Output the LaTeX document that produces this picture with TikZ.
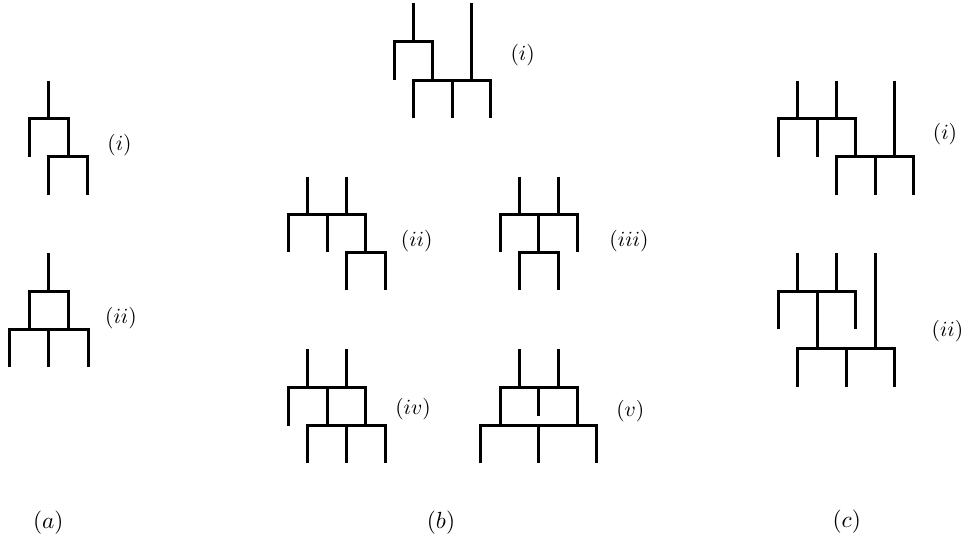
\documentclass[tikz,border=0pt]{standalone}
\begin{document}
\begin{tikzpicture}[x=0.75pt,y=-0.75pt,
  tree/.style={line width=2.25pt,line cap=butt,line join=miter,black},
  sidelabel/.style={font=\normalsize,scale=1.62,inner sep=0pt,anchor=center},
  caplabel/.style={font=\normalsize,scale=1.75,inner sep=0pt,anchor=center}]
\useasboundingbox (0,0) rectangle (968,537);
% (a)(i)
\draw[tree] (48.7,80.7)--(48.7,118.3);
\draw[tree] (29.3,156.7)--(29.3,118.3)--(68,118.3)--(68,156.7);
\draw[tree] (48.7,195)--(48.7,156.7)--(87.3,156.7)--(87.3,195);
\node[sidelabel] (ai) at (119.5,145) {$(i)$};
% (a)(ii)
\draw[tree] (48.7,253.3)--(48.7,291);
\draw[tree] (29.3,329.3)--(29.3,291)--(68,291)--(68,329.3);
\draw[tree] (9.7,367.3)--(9.7,329.3)--(88,329.3)--(88,367.3);
\draw[tree] (48.7,329.3)--(48.7,367.3);
\node[sidelabel] (aii) at (121,318) {$(ii)$};
% (b)(i)
\draw[tree] (413.3,3.3)--(413.3,41.7);
\draw[tree] (394,80)--(394,41.7)--(432.7,41.7)--(432.7,80);
\draw[tree] (471.3,3.3)--(471.3,80);
\draw[tree] (413.3,118.3)--(413.3,80)--(490.7,80)--(490.7,118.3);
\draw[tree] (452,80)--(452,118.3);
\node[sidelabel] (bi) at (522.7,55) {$(i)$};
% (b)(ii)
\draw[tree] (307.7,176.7)--(307.7,214.3);
\draw[tree] (346.3,176.7)--(346.3,214.3);
\draw[tree] (288.3,252.3)--(288.3,214.3)--(365.7,214.3)--(365.7,252.3);
\draw[tree] (327,214.3)--(327,252.3);
\draw[tree] (346.3,290)--(346.3,252.3)--(385,252.3)--(385,290);
\node[sidelabel] (bii) at (416.7,240.7) {$(ii)$};
% (b)(iii)
\draw[tree] (519.3,176.7)--(519.3,214.3);
\draw[tree] (558,176.7)--(558,214.3);
\draw[tree] (500,252.3)--(500,214.3)--(577.3,214.3)--(577.3,252.3);
\draw[tree] (538.7,214.3)--(538.7,252.3);
\draw[tree] (519.3,290)--(519.3,252.3)--(558,252.3)--(558,290);
\node[sidelabel] (biii) at (629,241) {$(iii)$};
% (b)(iv)
\draw[tree] (307.7,349.3)--(307.7,387.3);
\draw[tree] (346.3,349.3)--(346.3,387.3);
\draw[tree] (288.3,425.7)--(288.3,387.3)--(365.7,387.3)--(365.7,425.7);
\draw[tree] (327,387.3)--(327,425.7);
\draw[tree] (307.7,463.3)--(307.7,425.7)--(385,425.7)--(385,463.3);
\draw[tree] (346.3,425.7)--(346.3,463.3);
\node[sidelabel] (biv) at (413,409) {$(iv)$};
% (b)(v)
\draw[tree] (519.3,349.3)--(519.3,387.3);
\draw[tree] (558,349.3)--(558,387.3);
\draw[tree] (500,425.7)--(500,387.3)--(577.3,387.3)--(577.3,425.7);
\draw[tree] (538.7,387.3)--(538.7,416);
\draw[tree] (480.7,463.3)--(480.7,425.7)--(596.7,425.7)--(596.7,463.3);
\draw[tree] (538.7,425.7)--(538.7,463.3);
\node[sidelabel] (bv) at (630.3,411) {$(v)$};
% (c)(i)
\draw[tree] (797.7,80.7)--(797.7,118.3);
\draw[tree] (836.3,80.7)--(836.3,118.3);
\draw[tree] (778.3,156.7)--(778.3,118.3)--(855.7,118.3)--(855.7,156.7);
\draw[tree] (817,118.3)--(817,156.7);
\draw[tree] (894.3,80.7)--(894.3,156.7);
\draw[tree] (836.3,195)--(836.3,156.7)--(913.7,156.7)--(913.7,195);
\draw[tree] (875,156.7)--(875,195);
\node[sidelabel] (ci) at (945,134) {$(i)$};
% (c)(ii)
\draw[tree] (797.7,253.3)--(797.7,291.7);
\draw[tree] (836.3,253.3)--(836.3,291.7);
\draw[tree] (778.3,329.3)--(778.3,291.7)--(855.7,291.7)--(855.7,329.3);
\draw[tree] (817,291.7)--(817,348.3);
\draw[tree] (875,253.3)--(875,348.3);
\draw[tree] (797.7,386.7)--(797.7,348.3)--(894.3,348.3)--(894.3,386.7);
\draw[tree] (846,348.3)--(846,386.7);
\node[sidelabel] (cii) at (947.5,330.7) {$(ii)$};
% captions
\node[caplabel] (capa) at (48.3,523) {$(a)$};
\node[caplabel] (capb) at (441,523) {$(b)$};
\node[caplabel] (capc) at (846.7,522) {$(c)$};
\end{tikzpicture}
\end{document}
